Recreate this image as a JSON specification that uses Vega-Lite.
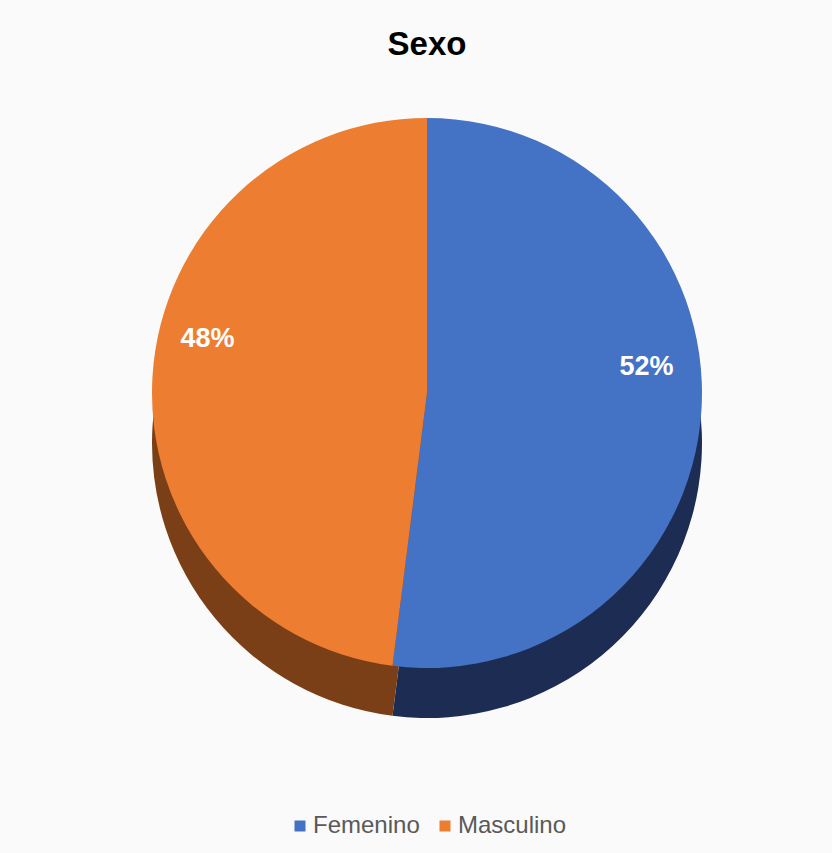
{
  "$schema": "https://vega.github.io/schema/vega-lite/v6.json",
  "width": 810,
  "height": 626,
  "autosize": "none",
  "padding": {"left": 22, "right": 0, "top": 80, "bottom": 147},
  "background": "#fafafa",
  "title": {
    "text": "Sexo",
    "font": "Liberation Sans",
    "fontSize": 33,
    "fontWeight": "bold",
    "color": "#000000",
    "anchor": "middle",
    "offset": 18
  },
  "data": {
    "values": [
      {"sexo": "Femenino", "pct": 52, "label": "52%"},
      {"sexo": "Masculino", "pct": 48, "label": "48%"}
    ]
  },
  "config": {
    "view": {"stroke": null},
    "font": "Liberation Sans"
  },
  "layer": [
    {
      "mark": {"type": "arc", "radius": 275, "yOffset": 50},
      "encoding": {
        "theta": {"field": "pct", "type": "quantitative", "stack": true},
        "order": {"field": "sexo", "sort": "ascending"},
        "color": {
          "field": "sexo",
          "type": "nominal",
          "scale": {"domain": ["Femenino", "Masculino"], "range": ["#1c2c52", "#7a3f16"]},
          "legend": null
        }
      }
    },
    {
      "mark": {"type": "arc", "radius": 275},
      "encoding": {
        "theta": {"field": "pct", "type": "quantitative", "stack": true},
        "order": {"field": "sexo", "sort": "ascending"},
        "color": {
          "field": "sexo",
          "type": "nominal",
          "scale": {"domain": ["Femenino", "Masculino"], "range": ["#4472C4", "#ED7D31"]},
          "legend": {
            "title": null,
            "orient": "none",
            "legendX": 266,
            "legendY": 734,
            "direction": "horizontal",
            "symbolType": "square",
            "symbolSize": 121,
            "symbolStrokeWidth": 0,
            "labelFontSize": 24,
            "labelColor": "#595959",
            "labelFont": "Liberation Sans",
            "labelOffset": 1,
            "columnPadding": 13
          }
        }
      }
    },
    {
      "mark": {"type": "text", "radius": 220, "yOffset": -40, "fontSize": 27, "fontWeight": "bold", "color": "white", "font": "Liberation Sans"},
      "encoding": {
        "theta": {"field": "pct", "type": "quantitative", "stack": true},
        "order": {"field": "sexo", "sort": "ascending"},
        "text": {"field": "label", "type": "nominal"},
        "detail": {"field": "sexo", "type": "nominal"}
      }
    }
  ],
  "resolve": {"scale": {"color": "independent"}}
}
